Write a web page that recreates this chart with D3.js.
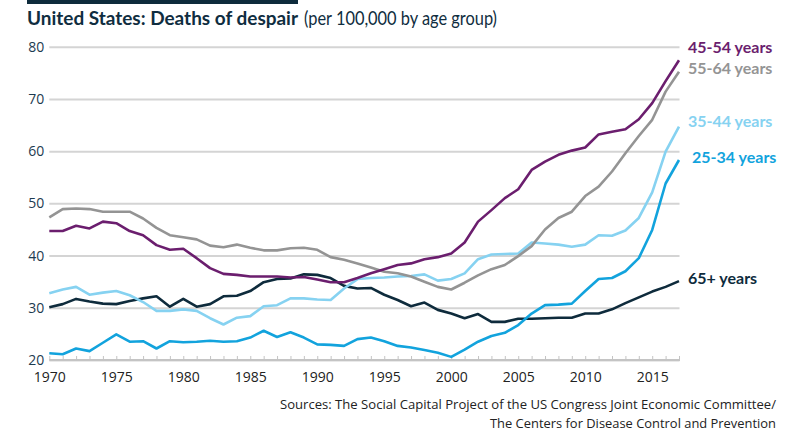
<!DOCTYPE html>
<html>
<head>
<meta charset="utf-8">
<script src="https://cdn.jsdelivr.net/npm/d3@7/dist/d3.min.js"></script>
<style>
  html, body { margin: 0; padding: 0; background: #fff; }
  svg { display: block; }
</style>
</head>
<body>
<svg id="chart" width="810" height="432"></svg>
<script>
const years = d3.range(1970, 2018);

const a25_34 = [21.3,21.1,22.2,21.7,23.3,24.9,23.5,23.6,22.2,23.6,
                23.4,23.5,23.7,23.5,23.6,24.3,25.6,24.4,25.3,24.3,
                23.0,22.9,22.7,24.0,24.3,23.6,22.7,22.4,21.9,21.4,
                20.6,22.0,23.5,24.6,25.2,26.7,28.9,30.5,30.6,30.8,
                33.2,35.5,35.7,37.0,39.5,44.9,53.8,58.3];
const a35_44 = [32.8,33.5,34.0,32.5,32.9,33.2,32.4,31.1,29.4,29.4,
                29.7,29.4,28.0,26.8,28.1,28.4,30.3,30.5,31.8,31.8,
                31.6,31.5,33.7,35.5,35.7,35.8,36.0,36.1,36.4,35.2,
                35.5,36.6,39.3,40.2,40.3,40.4,42.5,42.3,42.1,41.7,
                42.1,43.9,43.8,44.8,47.2,52.1,59.9,64.7];
const a45_54 = [44.7,44.7,45.7,45.2,46.5,46.2,44.7,43.9,42.0,41.1,
                41.3,39.5,37.6,36.5,36.3,36.0,36.0,36.0,35.8,35.9,
                35.4,34.9,34.9,35.7,36.6,37.4,38.2,38.5,39.3,39.7,
                40.4,42.5,46.5,48.7,51.0,52.7,56.4,58.0,59.3,60.1,
                60.7,63.2,63.7,64.2,66.1,69.2,73.4,77.4];
const a55_64 = [47.3,48.9,49.0,48.9,48.4,48.4,48.4,47.1,45.3,43.9,
                43.5,43.1,41.9,41.6,42.1,41.5,41.0,41.0,41.4,41.5,
                41.1,39.7,39.2,38.5,37.7,36.9,36.6,36.0,35.0,34.0,
                33.5,34.8,36.2,37.4,38.2,39.9,41.8,45.0,47.2,48.4,
                51.4,53.2,56.1,59.6,62.9,66.0,71.4,75.2];
const a65plus = [30.1,30.7,31.7,31.2,30.8,30.7,31.3,31.8,32.2,30.2,
                 31.7,30.2,30.7,32.2,32.3,33.2,34.9,35.5,35.6,36.4,
                 36.3,35.7,34.2,33.7,33.8,32.5,31.5,30.3,31.0,29.6,
                 28.9,28.0,28.8,27.3,27.3,27.9,27.9,28.0,28.1,28.1,
                 28.9,28.9,29.7,30.9,32.0,33.1,34.0,35.1];

const seriesNames = ["25-34 years","35-44 years","45-54 years","55-64 years","65+ years"];
const seriesValues = [a25_34, a35_44, a45_54, a55_64, a65plus];
const seriesColors = ["#12a3dd","#86d2f1","#6b1e6e","#949494","#0e2b3c"];
const labelY = {"45-54 years":47, "55-64 years":68, "35-44 years":121, "25-34 years":157, "65+ years":278};
const labelX = {"45-54 years":688, "55-64 years":688, "35-44 years":688, "25-34 years":692, "65+ years":688};

const yTicks = [20,30,40,50,60,70,80];
const xTickLabels = [1970,1975,1980,1985,1990,1995,2000,2005,2010,2015];

const svg = d3.select("#chart");
const x = d3.scaleLinear().domain([1970, 2017]).range([49.3, 679]);
const y = d3.scaleLinear().domain([20, 80]).range([360, 46.7]);

// title bar
svg.append("rect").attr("x", 27).attr("y", 0).attr("width", 271).attr("height", 4).attr("fill", "#0e2b3c");

// title
svg.append("text").attr("x", 27).attr("y", 25)
  .attr("font-family", "Lato, 'Open Sans', sans-serif").attr("font-weight", 700)
  .attr("font-size", 19).attr("fill", "#0f2d40")
  .attr("textLength", 271).attr("lengthAdjust", "spacingAndGlyphs")
  .text("United States: Deaths of despair");
svg.append("text").attr("x", 304).attr("y", 25)
  .attr("font-family", "Lato, 'Open Sans', sans-serif").attr("font-weight", 400)
  .attr("font-size", 19).attr("fill", "#0f2d40")
  .attr("textLength", 193).attr("lengthAdjust", "spacingAndGlyphs")
  .text("(per 100,000 by age group)");

// y grid + labels
const yAxis = d3.axisLeft(y).tickValues(yTicks).tickSizeInner(-(679.5 - 49.3)).tickSizeOuter(0).tickPadding(5);
const gy = svg.append("g").attr("transform", `translate(${49.3},0)`).call(yAxis);
gy.select(".domain").remove();
gy.selectAll(".tick line").attr("stroke", "#d4d4d4").attr("stroke-width", 2);
gy.selectAll(".tick text").attr("font-family", "'Open Sans', sans-serif").attr("font-size", 14).attr("fill", "#1d3b50");

// x axis
const xAxis = d3.axisBottom(x).tickValues(years).tickSizeInner(-4).tickSizeOuter(0).tickPadding(12)
  .tickFormat(d => xTickLabels.includes(d) ? String(d) : "");
const gx = svg.append("g").attr("transform", `translate(0,${y(20)})`).call(xAxis);
gx.select(".domain").attr("stroke", "#c4c4c4").attr("stroke-width", 2).attr("d", `M${x(1970)},0H${x(2017)+1}`);
gx.selectAll(".tick line").attr("stroke", "#c4c4c4").attr("stroke-width", 1);
gx.selectAll(".tick text").attr("font-family", "'Open Sans', sans-serif").attr("font-size", 14).attr("fill", "#222");

// lines
const line = d3.line().x((d, i) => x(years[i])).y(d => y(d));
const drawOrder = [4, 0, 1, 3, 2];
drawOrder.forEach(k => {
  svg.append("path").datum(seriesValues[k])
    .attr("d", line).attr("fill", "none")
    .attr("stroke", seriesColors[k]).attr("stroke-width", 2.6)
    .attr("stroke-linejoin", "round");
});

// series labels
seriesNames.forEach((name, k) => {
  svg.append("text").attr("x", labelX[name]).attr("y", labelY[name])
    .attr("dy", "0.35em")
    .attr("font-family", "Lato, 'Open Sans', sans-serif").attr("font-weight", 700)
    .attr("font-size", 16).attr("fill", seriesColors[k])
    .text(name);
});

// source
svg.append("text").attr("x", 776).attr("y", 409).attr("text-anchor", "end")
  .attr("font-family", "'Open Sans', sans-serif").attr("font-size", 13).attr("fill", "#222")
  .attr("textLength", 496).attr("lengthAdjust", "spacingAndGlyphs")
  .text("Sources: The Social Capital Project of the US Congress Joint Economic Committee/");
svg.append("text").attr("x", 776).attr("y", 428).attr("text-anchor", "end")
  .attr("font-family", "'Open Sans', sans-serif").attr("font-size", 13).attr("fill", "#222")
  .attr("textLength", 286).attr("lengthAdjust", "spacingAndGlyphs")
  .text("The Centers for Disease Control and Prevention");
</script>
</body>
</html>
